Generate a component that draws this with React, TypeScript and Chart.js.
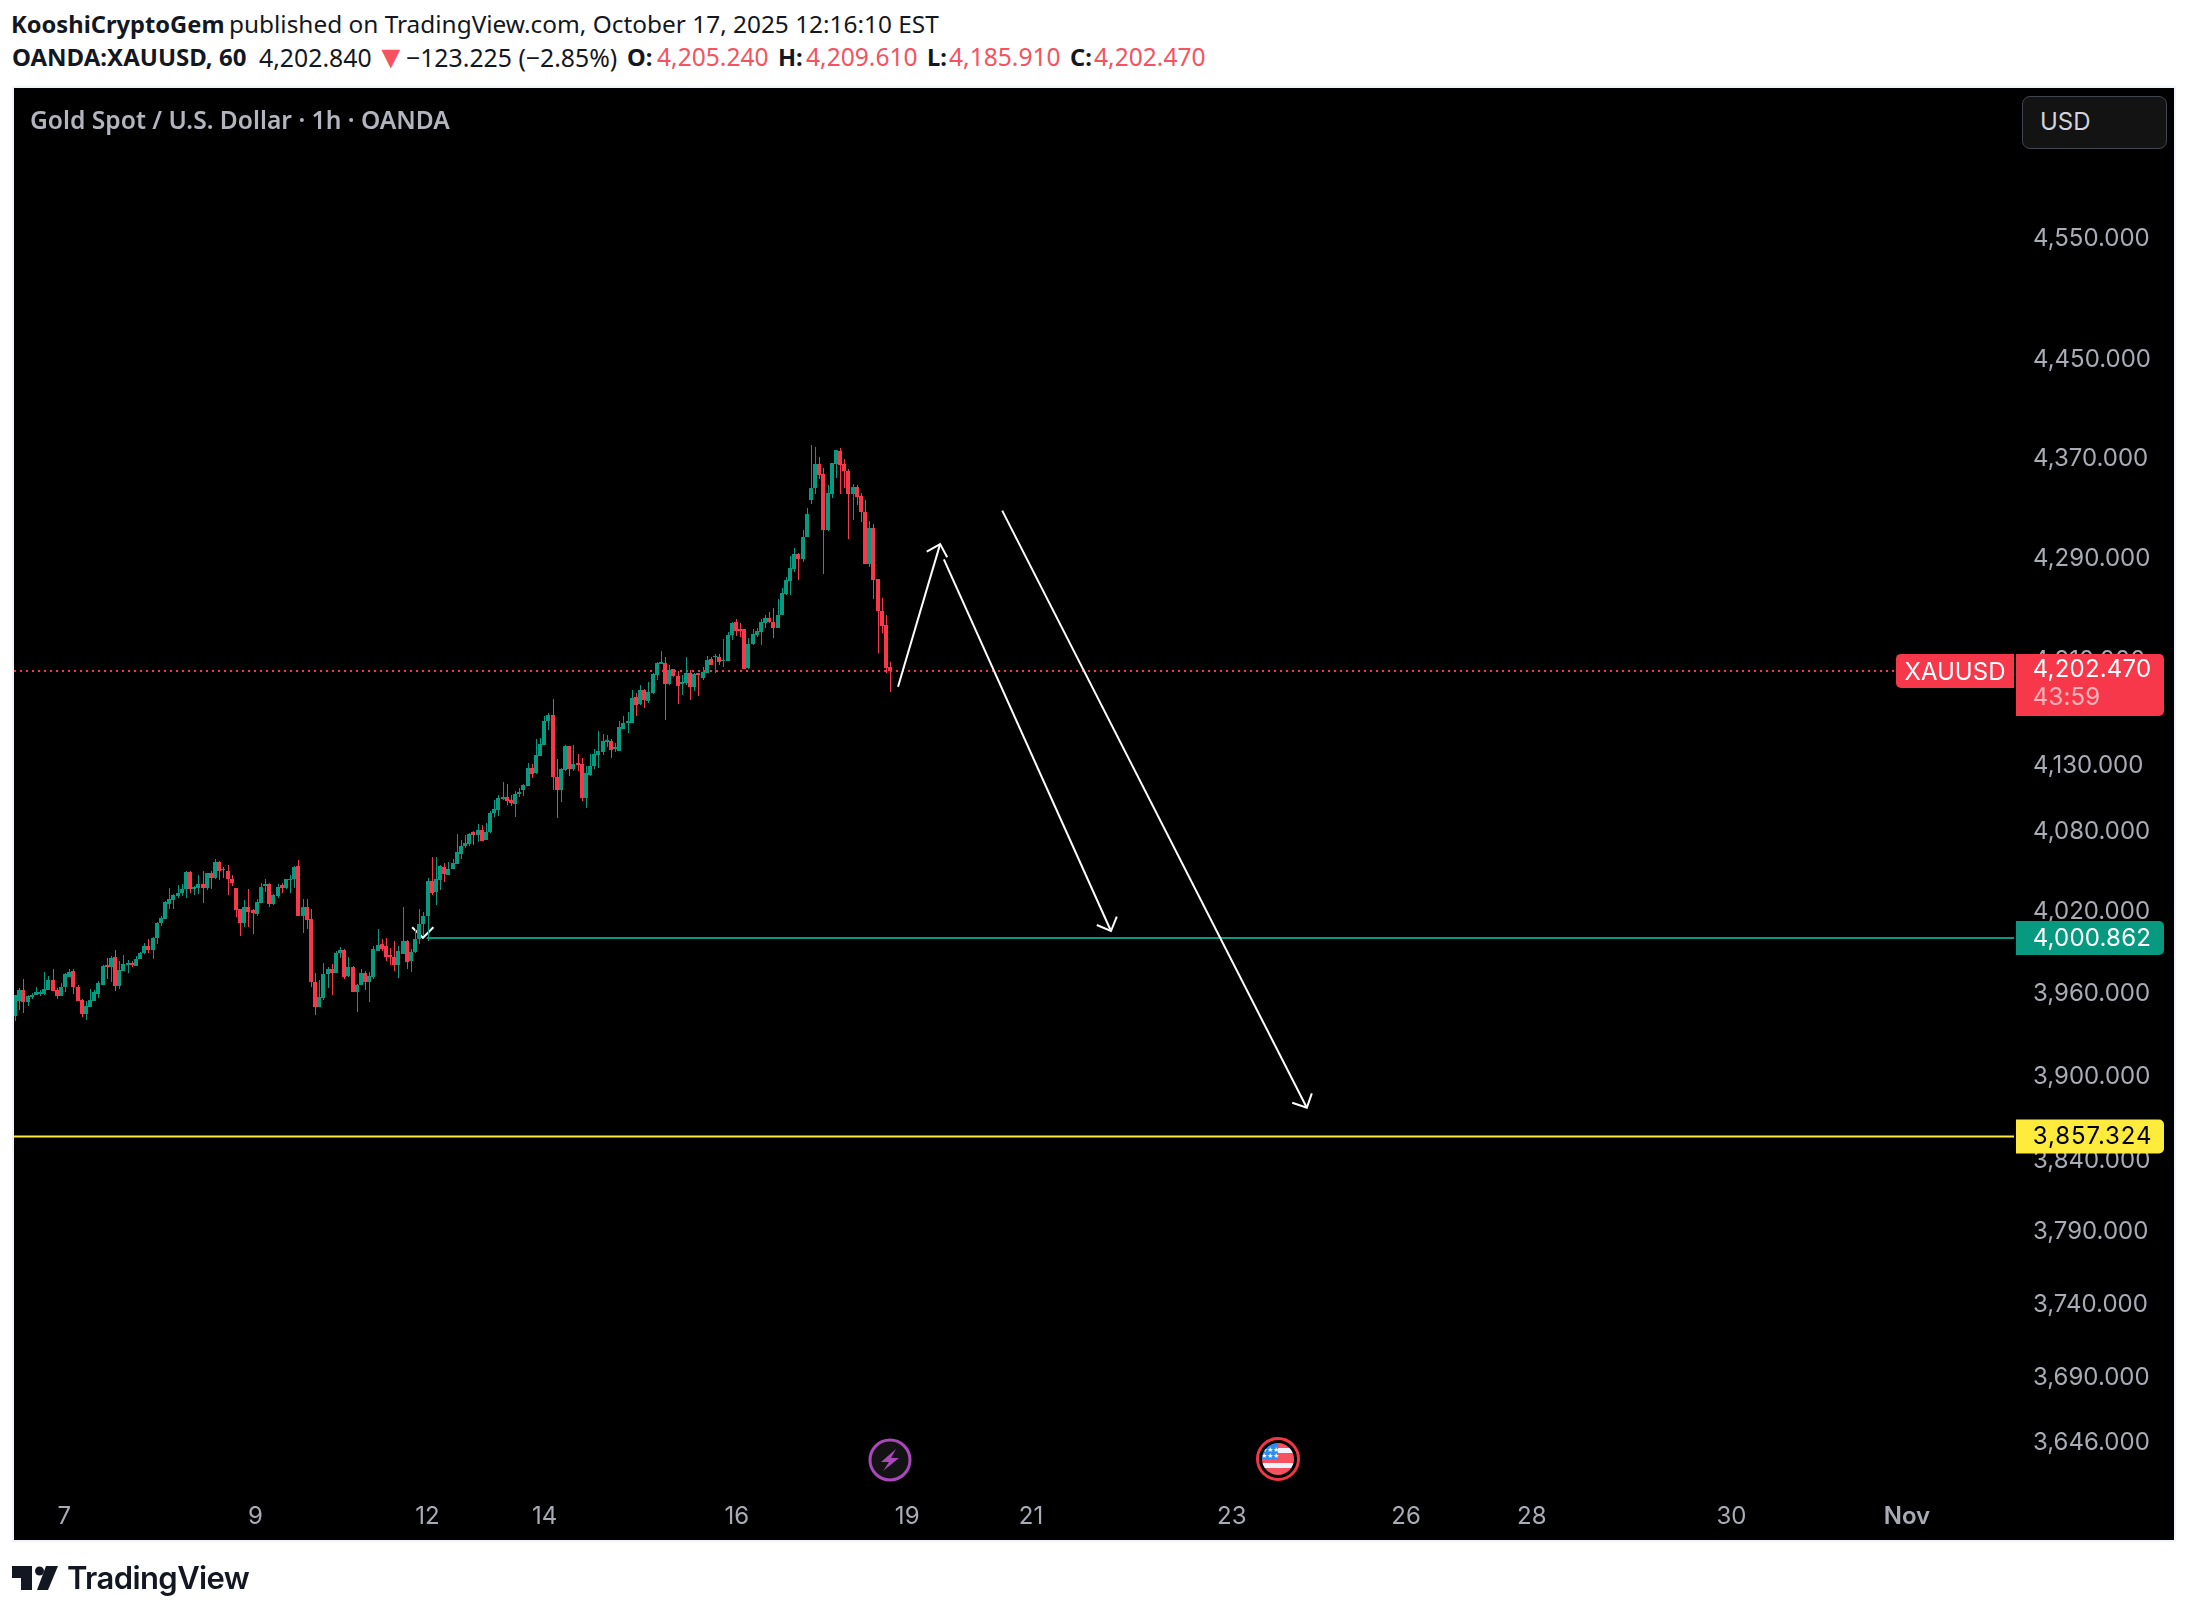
import React, { useEffect, useRef } from "react";
import { Chart, registerables } from "chart.js";
Chart.register(...registerables);

const lastBar = 210;
const openRead = [3944.1,3954.7,3963.3,3954.0,3957.9,3959.6,3960.3,3960.3,3962.8,3969.9,3963.3,3958.3,3965.0,3972.6,3976.5,3965.2,3955.9,3945.6,3951.0,3954.7,3960.3,3966.9,3981.4,3979.7,3986.8,3966.2,3976.5,3981.4,3982.9,3980.2,3985.8,3990.2,3995.1,3992.2,4000.7,4011.8,4014.7,4025.5,4028.9,4031.4,4033.8,4036.7,4049.5,4037.2,4037.5,4040.4,4037.5,4048.5,4045.3,4057.1,4051.9,4050.2,4044.1,4037.5,4022.0,4011.8,4023.3,4021.3,4018.4,4026.5,4039.4,4040.4,4025.5,4031.4,4039.7,4037.5,4043.6,4044.1,4053.7,4017.2,4024.0,4014.7,3969.1,3950.3,3957.1,3974.3,3977.9,3975.0,3990.2,3992.2,3973.1,3979.7,3961.8,3966.4,3975.5,3968.6,3972.3,3991.4,3996.3,3995.1,3988.2,3986.8,3980.9,3989.5,3998.8,3983.8,3990.7,4000.0,4011.0,4017.2,4042.6,4034.8,4043.4,4053.4,4047.5,4051.9,4055.6,4063.2,4068.6,4070.1,4078.9,4077.2,4080.9,4073.5,4078.9,4093.1,4095.6,4104.0,4105.3,4103.3,4100.2,4107.8,4110.9,4114.0,4127.7,4123.6,4136.4,4144.8,4162.8,4167.4,4120.6,4110.9,4125.7,4143.7,4126.2,4131.3,4130.2,4104.8,4122.4,4128.5,4136.9,4139.4,4147.0,4147.8,4142.0,4140.2,4157.2,4161.3,4161.6,4181.1,4175.8,4186.5,4178.1,4184.2,4197.9,4206.6,4207.1,4191.3,4202.5,4197.4,4191.6,4191.8,4199.5,4189.3,4199.5,4196.2,4200.0,4210.2,4211.7,4212.2,4208.6,4209.1,4229.0,4239.0,4233.4,4233.4,4203.8,4221.8,4228.7,4231.3,4238.5,4242.4,4239.5,4234.4,4244.4,4261.1,4271.2,4280.4,4292.3,4288.6,4305.3,4335.2,4344.0,4363.8,4355.6,4311.4,4340.0,4363.8,4374.2,4363.8,4358.3,4340.0,4345.3,4338.4,4325.7,4284.4,4313.0,4272.7,4248.0,4236.5,4205.24];
const highRead = [3959.6,3964.5,3970.6,3959.6,3961.0,3965.2,3963.3,3976.2,3973.0,3977.9,3964.5,3967.7,3975.0,3977.9,3977.9,3966.9,3956.4,3954.7,3964.0,3963.3,3969.6,3980.9,3986.0,3987.8,3991.9,3984.1,3988.5,3984.8,3984.1,3987.8,3990.9,3997.1,4000.0,4001.5,4012.7,4017.2,4028.2,4037.5,4033.1,4039.7,4040.4,4050.2,4050.2,4039.2,4047.0,4050.2,4049.0,4050.2,4059.5,4057.8,4053.2,4054.4,4047.0,4037.5,4022.5,4028.7,4036.7,4022.0,4029.9,4041.7,4044.1,4041.2,4033.1,4040.4,4041.2,4044.6,4047.0,4053.9,4058.1,4029.4,4029.4,4022.0,3975.0,3969.9,3982.9,3979.9,3981.6,3991.4,3994.6,3993.1,3987.3,3980.4,3967.4,3978.4,3976.7,3976.0,3995.1,4007.4,4000.5,4000.7,3993.9,3998.5,3995.1,4023.3,3999.3,3992.7,4007.4,4022.0,4020.1,4045.3,4060.5,4060.5,4054.9,4055.9,4056.8,4059.3,4077.9,4073.5,4077.2,4078.4,4079.9,4085.3,4084.5,4085.7,4094.9,4103.3,4107.1,4117.0,4115.5,4107.1,4109.9,4112.2,4115.5,4131.3,4130.0,4149.6,4149.8,4166.9,4169.4,4179.6,4133.8,4127.4,4144.5,4144.0,4144.5,4137.6,4134.6,4129.2,4137.6,4142.0,4155.2,4152.9,4152.1,4149.6,4146.0,4162.8,4166.6,4169.7,4186.5,4184.2,4190.3,4187.3,4192.9,4200.0,4208.4,4217.0,4211.7,4205.6,4203.0,4201.3,4197.9,4211.7,4202.0,4199.5,4199.5,4204.0,4212.5,4211.7,4214.7,4214.7,4226.2,4231.5,4239.0,4241.1,4238.5,4233.9,4226.4,4233.4,4234.1,4241.1,4244.9,4246.7,4250.1,4257.0,4265.5,4274.0,4290.8,4296.8,4292.9,4311.4,4328.6,4378.9,4377.1,4369.1,4360.4,4346.4,4364.4,4375.0,4376.3,4367.6,4359.6,4347.7,4346.4,4340.5,4334.5,4318.3,4316.2,4272.7,4258.1,4244.2,4209.61];
const lowRead = [3940.5,3948.5,3946.6,3951.7,3956.6,3959.6,3958.3,3959.6,3962.8,3962.0,3956.6,3958.3,3961.8,3972.6,3960.3,3954.7,3943.6,3941.2,3951.0,3954.7,3957.1,3966.4,3971.3,3968.9,3962.5,3964.0,3976.5,3975.5,3979.7,3980.2,3985.3,3989.5,3990.2,3985.3,3996.8,4009.8,4014.7,4022.0,4022.0,4030.6,4031.4,4030.6,4033.8,4032.3,4033.1,4026.5,4036.0,4037.2,4044.6,4043.4,4045.3,4032.3,4039.2,4016.4,4002.4,4009.1,4009.3,4003.7,4017.2,4026.5,4034.8,4023.3,4025.0,4030.6,4034.3,4036.7,4033.8,4038.0,4017.2,4004.4,4007.4,3965.0,3944.9,3950.3,3955.9,3964.5,3959.6,3975.0,3986.5,3970.6,3972.6,3961.3,3947.3,3966.4,3963.3,3954.0,3971.1,3991.4,3991.4,3984.1,3980.9,3976.7,3971.6,3989.0,3977.9,3976.0,3990.2,3996.3,4002.4,3998.8,4032.3,4025.0,4036.3,4042.1,4047.3,4051.5,4055.1,4059.5,4067.1,4069.1,4069.8,4071.5,4072.8,4073.0,4078.4,4090.5,4091.3,4103.3,4099.5,4099.0,4090.5,4105.8,4106.3,4113.5,4119.6,4123.1,4136.4,4144.5,4156.2,4110.4,4089.8,4102.0,4124.9,4121.1,4124.9,4124.9,4102.8,4097.4,4121.1,4126.9,4127.4,4137.1,4143.2,4134.6,4139.4,4139.9,4156.7,4153.7,4161.3,4166.9,4175.5,4173.0,4176.8,4183.4,4194.1,4206.3,4163.6,4190.3,4196.9,4175.8,4182.7,4190.3,4178.9,4185.7,4181.9,4194.1,4199.5,4205.6,4199.5,4205.6,4204.0,4208.9,4225.1,4228.2,4227.4,4203.0,4203.0,4221.0,4227.7,4221.0,4234.6,4238.5,4226.4,4234.1,4244.4,4259.9,4260.4,4278.1,4271.9,4286.3,4305.3,4331.3,4340.0,4351.9,4276.6,4310.6,4336.8,4352.7,4340.0,4344.5,4304.3,4319.4,4330.5,4317.8,4284.4,4282.0,4257.3,4214.8,4230.3,4199.4,4185.91];
const closeRead = [3959.6,3963.3,3954.0,3958.8,3959.6,3961.3,3961.8,3963.7,3969.9,3962.5,3958.3,3965.2,3974.3,3976.0,3965.0,3955.2,3945.6,3951.5,3955.9,3961.5,3967.7,3980.4,3979.7,3986.0,3966.2,3977.4,3981.9,3982.4,3980.9,3985.3,3990.2,3995.1,3992.2,4001.2,4012.2,4015.4,4027.0,4029.4,4032.3,4033.8,4037.2,4049.5,4036.7,4038.2,4040.4,4037.5,4048.5,4045.3,4056.8,4050.2,4050.7,4044.1,4041.2,4021.6,4011.8,4023.3,4019.6,4019.1,4027.0,4038.7,4040.9,4025.7,4032.3,4038.2,4038.0,4044.6,4044.6,4053.4,4017.2,4024.0,4014.0,3969.1,3950.3,3957.6,3974.3,3977.9,3975.0,3990.2,3992.2,3972.6,3979.7,3961.8,3966.9,3975.5,3968.6,3973.1,3992.7,3996.1,3993.1,3987.0,3987.3,3980.9,3991.2,3998.8,3983.3,3990.7,4000.0,4011.5,4017.2,4042.6,4034.3,4044.1,4053.9,4047.8,4051.9,4056.4,4064.2,4069.1,4071.0,4077.9,4077.2,4080.9,4072.8,4079.4,4093.6,4096.1,4105.0,4105.3,4102.8,4100.7,4107.8,4109.6,4114.7,4127.7,4123.1,4136.9,4145.3,4162.8,4167.4,4120.3,4110.9,4126.2,4144.0,4126.2,4130.5,4129.7,4104.8,4123.6,4129.2,4137.6,4139.9,4147.8,4148.6,4141.0,4143.2,4158.2,4161.3,4162.8,4180.9,4175.0,4186.7,4178.9,4185.2,4198.7,4207.1,4208.1,4191.3,4202.0,4197.4,4189.5,4192.9,4199.5,4189.3,4198.7,4198.5,4200.5,4209.4,4206.1,4213.2,4208.1,4209.4,4229.2,4238.5,4232.1,4232.1,4203.0,4221.8,4229.5,4232.1,4239.0,4242.4,4239.0,4234.4,4244.7,4261.7,4271.9,4281.0,4292.1,4288.6,4305.6,4324.1,4344.5,4363.8,4355.1,4311.4,4340.5,4364.4,4374.4,4363.0,4357.8,4340.0,4345.3,4337.4,4325.7,4284.4,4313.0,4271.9,4247.3,4235.7,4203.3,4202.47];

const priceTicks = [4550,4450,4370,4290,4210,4130,4080,4020,3960,3900,3840,3790,3740,3690,3646];
const timeTickBars = [11.8,57.7,99,127.1,173.2,214.1,243.8,292,333.8,364,411.9,454];
const timeTickLabels = ["7","9","12","14","16","19","21","23","26","28","30","Nov"];

const barMin = -0.24;
const barMax = 479.7;
const priceMin = 3613.7;
const priceMax = 4678.4;

const lastPrice = 4202.47;
const greenLevel = 4000.862;
const yellowLevel = 3857.324;
const greenLevelStart = 98.8;

// Values above were read against a slightly too wide price grid: this small correction
// (about +2 at the top of the range, about -0.3 at the bottom) puts them on the chart's own one.
const corrected = (p: number) => p + 0.0055 * p * Math.log(p / greenLevel);
const opens = openRead.map((p, i) => (i === lastBar ? p : corrected(p)));
const highs = highRead.map((p, i) => (i === lastBar ? p : corrected(p)));
const lows = lowRead.map((p, i) => (i === lastBar ? p : corrected(p)));
const closes = closeRead.map((p, i) => (i === lastBar ? p : corrected(p)));

const arrowUp = [{x:211.9,y:4189.2},{x:222.0,y:4300.0}];
const arrowUpHead = [{x:218.8,y:4294.0},{x:222.0,y:4300.0},{x:223.7,y:4289.6}];
const arrowMid = [{x:222.9,y:4288.0},{x:263.0,y:4006.0}];
const arrowMidHead = [{x:259.6,y:4010.4},{x:263.0,y:4006.0},{x:264.4,y:4016.5}];
const arrowLong = [{x:236.9,y:4326.4},{x:310.0,y:3878.5}];
const arrowLongHead = [{x:306.5,y:3882.0},{x:310.0,y:3878.5},{x:311.2,y:3888.7}];
const arrowSmallHead = [{x:95.3,y:4008.7},{x:97.9,y:4001.0},{x:100.4,y:4008.7}];

const UP = "#089981";
const DOWN = "#f7374a";
const AXIS = "#a9acb5";
const UIFONT = "Inter";
const HEADFONT = "'Noto Sans'";

const fmt = (v: number) => v.toLocaleString("en-US", { minimumFractionDigits: 3, maximumFractionDigits: 3 });
const noPadding = () => ({ left: 0, right: 0, top: 0, bottom: 0 });

const snapPlugin = {
  id: "snap",
  beforeDatasetsDraw(chart: any) {
    chart.data.datasets.forEach((ds: any, di: number) => {
      if (ds.type !== "bar") return;
      const meta = chart.getDatasetMeta(di);
      meta.data.forEach((el: any) => {
        const w = ds.barThickness;
        if (el.$cx === undefined) el.$cx = el.x;
        const bodyLeft = Math.round(el.$cx - 2);
        const left = w === 4 ? bodyLeft : bodyLeft + 2;
        el.x = left + w / 2;
        const top = Math.round(Math.min(el.y, el.base));
        let bot = Math.round(Math.max(el.y, el.base));
        if (bot - top < 1) bot = top + 1;
        el.y = top;
        el.base = bot;
        el.height = bot - top;
      });
    });
  },
};

function rr(ctx: any, x: number, y: number, w: number, h: number, r: number[]) {
  ctx.beginPath();
  ctx.roundRect(x, y, w, h, r);
  ctx.fill();
}

const labelPlugin = {
  id: "priceLabels",
  afterDraw(chart: any) {
    const ctx = chart.ctx;
    const ys = chart.scales.y;
    const a = chart.chartArea;
    ctx.save();
    ctx.textBaseline = "middle";
    ctx.font = `24px ${UIFONT}`;
    const boxX = a.right + 2;
    const boxW = 148;
    const textX = a.right + 18.7;
    const yLast = ys.getPixelForValue(lastPrice);
    ctx.fillStyle = DOWN;
    rr(ctx, a.right - 118, yLast - 17, 118, 34, [5, 0, 0, 5]);
    rr(ctx, boxX, yLast - 17, boxW, 62, [0, 5, 5, 0]);
    ctx.fillStyle = "#ffffff";
    ctx.textAlign = "center";
    ctx.fillText("XAUUSD", a.right - 59, yLast + 1.5);
    ctx.textAlign = "left";
    ctx.letterSpacing = "0.2px";
    ctx.fillText(fmt(lastPrice), textX, yLast - 1);
    ctx.fillStyle = "rgba(255,255,255,0.62)";
    ctx.fillText("43:59", textX, yLast + 27);
    const yG = ys.getPixelForValue(greenLevel);
    ctx.fillStyle = UP;
    rr(ctx, boxX, yG - 17, boxW, 34, [0, 5, 5, 0]);
    ctx.fillStyle = "#ffffff";
    ctx.fillText(fmt(greenLevel), textX, yG + 0.5);
    const yY = ys.getPixelForValue(yellowLevel);
    ctx.fillStyle = "#ffeb3b";
    rr(ctx, boxX, yY - 17, boxW, 34, [0, 5, 5, 0]);
    ctx.fillStyle = "#000000";
    ctx.letterSpacing = "0.9px";
    ctx.fillText(fmt(yellowLevel), textX, yY + 0.5);
    ctx.restore();
  },
};

const arrowDs = (points: any[]) => ({
  type: "line",
  data: points.map((p) => ({ x: p.x, y: corrected(p.y) })),
  borderColor: "#ffffff",
  borderWidth: 2,
  pointRadius: 0,
  fill: false,
  tension: 0,
  order: 0,
});

const levelDs = (data: any[], color: string, dash?: number[]) => ({
  type: "line",
  data,
  borderColor: color,
  borderWidth: 2,
  borderDash: dash || [],
  pointRadius: 0,
  fill: false,
  tension: 0,
  order: 5,
});

const T = ({ x, y, children, style }: any) => (
  <span style={{ position: "absolute", left: x, top: y - 15, lineHeight: "30px", whiteSpace: "nowrap", ...style }}>{children}</span>
);

export default function App() {
  const ref = useRef<HTMLCanvasElement>(null);
  useEffect(() => {
    const idx = opens.map((_, i) => i);
    const colors = idx.map((i) => (closes[i] >= opens[i] ? UP : DOWN));
    const chart = new Chart(ref.current as any, {
      type: "bar",
      data: {
        datasets: [
          levelDs([{ x: barMin, y: lastPrice }, { x: barMax, y: lastPrice }], DOWN, [2, 4]),
          levelDs([{ x: greenLevelStart, y: greenLevel }, { x: barMax, y: greenLevel }], UP),
          levelDs([{ x: barMin, y: yellowLevel }, { x: barMax, y: yellowLevel }], "#ffeb3b"),
          { ...arrowDs(arrowSmallHead), order: 6 },
          arrowDs(arrowUp),
          arrowDs(arrowUpHead),
          arrowDs(arrowMid),
          arrowDs(arrowMidHead),
          arrowDs(arrowLong),
          arrowDs(arrowLongHead),
          {
            type: "bar",
            data: idx.map((i) => ({ x: i, y: [lows[i], highs[i]] })),
            backgroundColor: colors,
            barThickness: 1,
            borderWidth: 0,
            inflateAmount: 0,
            grouped: false,
            order: 3,
          },
          {
            type: "bar",
            data: idx.map((i) => ({ x: i, y: [opens[i], closes[i]] })),
            backgroundColor: colors,
            barThickness: 4,
            borderWidth: 0,
            inflateAmount: 0,
            grouped: false,
            order: 2,
          },
        ] as any,
      },
      plugins: [snapPlugin, labelPlugin] as any,
      options: {
        animation: false,
        responsive: false,
        devicePixelRatio: 1,
        events: [],
        layout: { padding: 0, autoPadding: false },
        plugins: { legend: { display: false }, tooltip: { enabled: false } },
        scales: {
          x: {
            type: "linear",
            offset: false,
            min: barMin,
            max: barMax,
            grid: { display: false, drawTicks: false, offset: false },
            border: { display: false },
            afterFit: (s: any) => { s.height = 49; s.getPadding = noPadding; },
            afterBuildTicks: (s: any) => { s.ticks = timeTickBars.map((value) => ({ value })); },
            ticks: {
              autoSkip: false,
              maxRotation: 0,
              padding: 11,
              color: AXIS,
              font: (c: any) => ({ family: UIFONT, size: 24, weight: timeTickLabels[c.index] === "Nov" ? "600" : "400" }),
              callback: (_v: any, i: number) => timeTickLabels[i],
            },
          },
          y: {
            type: "logarithmic",
            position: "right",
            min: priceMin,
            max: priceMax,
            bounds: "data",
            grid: { display: false, drawTicks: false },
            border: { display: false },
            afterFit: (s: any) => { s.width = 160; s.getPadding = noPadding; },
            afterBuildTicks: (s: any) => { s.ticks = priceTicks.map((value) => ({ value })); },
            ticks: {
              autoSkip: false,
              padding: 19,
              color: AXIS,
              font: { family: UIFONT, size: 24 },
              callback: (v: any) => fmt(Number(v)),
            },
          },
        },
      } as any,
    });
    return () => chart.destroy();
  }, []);

  const head = { fontFamily: HEADFONT, fontSize: 24.4, color: "#131722" };
  const bold = { ...head, fontSize: 23.7, fontWeight: 700 };
  const num = { ...head, fontSize: 24.8 };
  const red = { ...head, fontSize: 24.6, color: "#f7525f" };
  return (
    <div style={{ position: "absolute", left: 0, top: 0, width: 2188, height: 1614, overflow: "hidden", background: "#ffffff" }}>
      <T x={11} y={24} style={bold}>KooshiCryptoGem</T>
      <T x={229} y={24} style={head}>published on TradingView.com, October 17, 2025 12:16:10 EST</T>
      <T x={12} y={57} style={{ ...bold, fontSize: 24 }}>OANDA:XAUUSD, 60</T>
      <T x={259} y={57} style={num}>4,202.840</T>
      <T x={375} y={56} style={{ ...red, fontSize: 32 }}>▼</T>
      <T x={406} y={57} style={num}>−123.225 (−2.85%)</T>
      <T x={627} y={57} style={bold}>O:</T>
      <T x={657} y={57} style={red}>4,205.240</T>
      <T x={778} y={57} style={bold}>H:</T>
      <T x={806} y={57} style={red}>4,209.610</T>
      <T x={927} y={57} style={bold}>L:</T>
      <T x={949} y={57} style={red}>4,185.910</T>
      <T x={1070} y={57} style={bold}>C:</T>
      <T x={1094} y={57} style={red}>4,202.470</T>

      <div style={{ position: "absolute", left: 12, top: 86, width: 2164, height: 1456, background: "#f0f3fa" }} />
      <canvas ref={ref} width={2160} height={1452} style={{ position: "absolute", left: 14, top: 88, width: 2160, height: 1452, display: "block", background: "#000000" }} />

      <T x={30} y={120} style={{ fontFamily: HEADFONT, fontSize: 24.6, fontWeight: 600, color: "#b2b5be" }}>Gold Spot / U.S. Dollar · 1h · OANDA</T>

      <div style={{ position: "absolute", left: 2022, top: 96, width: 143, height: 51, boxSizing: "content-box", border: "1px solid #434651", borderRadius: 8, background: "#131313" }} />
      <T x={2040} y={122} style={{ fontFamily: UIFONT, fontSize: 24, color: "#d1d4dc" }}>USD</T>

      <svg width={2188} height={1614} style={{ position: "absolute", left: 0, top: 0, pointerEvents: "none" }}>
        <circle cx={890} cy={1460} r={20} fill="#131313" stroke="#ab47bc" strokeWidth={3} />
        <path d="M896 1449 L881 1462 L889 1462 L883 1471 L899 1458 L891 1458 Z" fill="#ab47bc" />
        <circle cx={1278} cy={1459} r={20.5} fill="#000" stroke="#f23645" strokeWidth={3} />
        <clipPath id="disc"><circle cx={1278} cy={1459} r={16} /></clipPath>
        <g clipPath="url(#disc)">
          <rect x={1262} y={1443} width={32} height={32} fill="#f7525f" />
          <rect x={1262} y={1448} width={32} height={5} fill="#f0f3fa" />
          <rect x={1262} y={1463} width={32} height={5} fill="#f0f3fa" />
          <rect x={1262} y={1443} width={16} height={16} fill="#2d8cf0" />
          <text x={1270} y={1452} fontSize={7} fill="#fff" textAnchor="middle">★★★</text>
          <text x={1270} y={1458} fontSize={7} fill="#fff" textAnchor="middle">★★★</text>
        </g>
        <path d="M12 1566 H32 V1590 H21 V1578 H12 Z" fill="#131722" />
        <circle cx={39.5} cy={1571} r={4.5} fill="#131722" />
        <path d="M46 1566 H58 L48 1590 H37 Z" fill="#131722" />
      </svg>
      <T x={67} y={1578} style={{ fontFamily: "Inter", fontSize: 31, fontWeight: 600, color: "#131722", letterSpacing: -0.6 }}>TradingView</T>
    </div>
  );
}
